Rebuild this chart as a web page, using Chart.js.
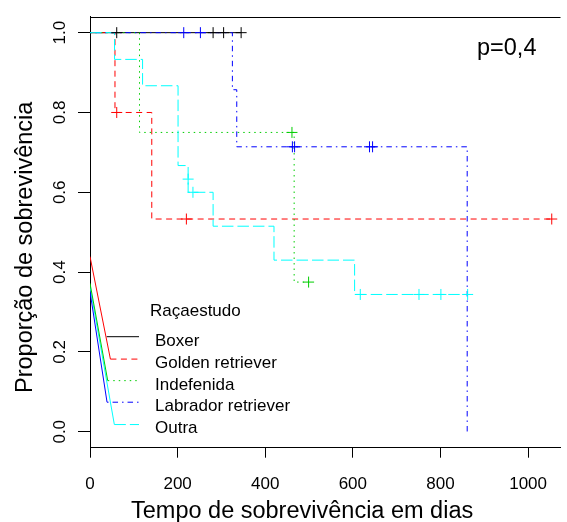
<!DOCTYPE html>
<html>
<head>
<meta charset="utf-8">
<script src="https://cdn.jsdelivr.net/npm/chart.js@4.4.1/dist/chart.umd.min.js"></script>
<style>
  html, body { margin: 0; padding: 0; background: #fff; }
</style>
</head>
<body>
<canvas id="kmChart" width="567" height="522"></canvas>
<script>
const FONT = "'Liberation Sans', Arial, Helvetica, sans-serif";

// Groups (Raçaestudo)
const groupNames = ["Boxer", "Golden retriever", "Indefenida", "Labrador retriever", "Outra"];
const groupColors = ["#000000", "#ff0000", "#00cd00", "#0000ff", "#00ffff"];
const groupDashes = [[], [6, 4.5], [1.5, 4], [1.5, 4, 5.5, 4], [11.5, 4]];

// Kaplan-Meier steps (time in days, survival)
const boxerTimes = [0, 345];
const boxerSurv = [1, 1];
const goldenTimes = [0, 57, 141, 1054];
const goldenSurv = [1, 0.8, 0.533, 0.533];
const indefTimes = [0, 113, 466, 499];
const indefSurv = [1, 0.75, 0.375, 0.375];
const labTimes = [0, 325, 335, 861];
const labSurv = [1, 0.857, 0.714, 0];
const outraTimes = [0, 56, 120, 201, 224, 281, 420, 604, 861];
const outraSurv = [1, 0.933, 0.867, 0.667, 0.6, 0.515, 0.43, 0.344, 0.344];

// Censored observations
const boxerCensT = [61, 281, 305, 345];
const boxerCensS = [1, 1, 1, 1];
const goldenCensT = [61, 220, 1054];
const goldenCensS = [0.8, 0.533, 0.533];
const indefCensT = [461, 499];
const indefCensS = [0.75, 0.375];
const labCensT = [214, 252, 462, 467, 638, 645];
const labCensS = [1, 1, 0.714, 0.714, 0.714, 0.714];
const outraCensT = [224, 235, 617, 751, 801, 862];
const outraCensS = [0.633, 0.6, 0.344, 0.344, 0.344, 0.344];

// stray lines from the y axis down to the legend keys (red, green, blue, cyan)
const diagStartS = [0.439, 0.372, 0.351, 0.364];
const diagEndT = [46.6, 40.5, 38.9, 55.6];
const diagEndS = [0.182, 0.128, 0.074, 0.018];

// axes
const xTicks = [0, 200, 400, 600, 800, 1000];
const xTickLabels = ["0", "200", "400", "600", "800", "1000"];
const yTicks = [0, 0.2, 0.4, 0.6, 0.8, 1.0];
const yTickLabels = ["0.0", "0.2", "0.4", "0.6", "0.8", "1.0"];
const xTitle = "Tempo de sobrevivência em dias";
const yTitle = "Proporção de sobrevivência";
const legendTitle = "Raçaestudo";
const pValueText = "p=0,4";

function toPoints(ts, ss) {
  return ts.map((t, k) => ({ x: t, y: ss[k] }));
}

function kmDataset(i, ts, ss) {
  return {
    label: groupNames[i],
    data: toPoints(ts, ss),
    borderColor: groupColors[i],
    borderWidth: 1,
    borderDash: groupDashes[i],
    stepped: "before", // horizontal first, then drop
    pointRadius: 0,
    fill: false,
    order: 20 - i,
  };
}

function censorDataset(i, ts, ss) {
  return {
    label: groupNames[i] + " (censura)",
    data: toPoints(ts, ss),
    showLine: false,
    pointStyle: "cross",
    pointRadius: 5.5,
    pointBorderWidth: 1,
    pointBorderColor: groupColors[i],
    borderColor: groupColors[i],
    backgroundColor: groupColors[i],
    order: 10 - i,
  };
}

const datasets = [
  kmDataset(0, boxerTimes, boxerSurv),
  kmDataset(1, goldenTimes, goldenSurv),
  kmDataset(2, indefTimes, indefSurv),
  kmDataset(3, labTimes, labSurv),
  kmDataset(4, outraTimes, outraSurv),
  censorDataset(0, boxerCensT, boxerCensS),
  censorDataset(1, goldenCensT, goldenCensS),
  censorDataset(2, indefCensT, indefCensS),
  censorDataset(3, labCensT, labCensS),
  censorDataset(4, outraCensT, outraCensS),
];

for (let k = 0; k < diagStartS.length; k++) {
  datasets.push({
    label: "diag" + k,
    data: [{ x: 0, y: diagStartS[k] }, { x: diagEndT[k], y: diagEndS[k] }],
    borderColor: groupColors[k + 1],
    borderWidth: 1,
    pointRadius: 0,
    fill: false,
    order: 30,
  });
}

// legend, rotated y labels, titles and the top of the box
const decorPlugin = {
  id: "decor",
  afterDraw(chart) {
    const { ctx, chartArea: area, scales: { x, y } } = chart;
    ctx.save();
    ctx.strokeStyle = "#000";
    ctx.fillStyle = "#000";
    ctx.lineWidth = 1;

    // top edge of the box
    const topY = Math.round(area.top) + 0.5;
    ctx.beginPath();
    ctx.moveTo(area.left, topY);
    ctx.lineTo(area.right, topY);
    ctx.stroke();

    // y tick labels (parallel to axis)
    ctx.font = "17px " + FONT;
    ctx.textAlign = "center";
    ctx.textBaseline = "alphabetic";
    yTicks.forEach((v, k) => {
      ctx.save();
      ctx.translate(65, y.getPixelForValue(v));
      ctx.rotate(-Math.PI / 2);
      ctx.fillText(yTickLabels[k], 0, 0);
      ctx.restore();
    });

    // axis titles
    ctx.font = "23.5px " + FONT;
    ctx.textAlign = "left";
    ctx.fillText(xTitle, 131, 518.3);
    ctx.save();
    ctx.translate(31.5, 393);
    ctx.rotate(-Math.PI / 2);
    ctx.fillText(yTitle, 0, 0);
    ctx.restore();

    // p-value
    ctx.fillText(pValueText, 477, 55);

    // legend
    ctx.font = "17px " + FONT;
    ctx.fillText(legendTitle, 150, 316);
    const base0 = 346, step = 21.8, keyEnd = 139;
    groupNames.forEach((name, i) => {
      const base = base0 + step * i;
      const ly = i === 0 ? base - 9.3 : y.getPixelForValue(diagEndS[i - 1]);
      const lx = i === 0 ? 106.7 : x.getPixelForValue(diagEndT[i - 1]);
      ctx.save();
      ctx.strokeStyle = groupColors[i];
      ctx.setLineDash(groupDashes[i]);
      ctx.beginPath();
      ctx.moveTo(lx, ly);
      ctx.lineTo(keyEnd, ly);
      ctx.stroke();
      ctx.restore();
      ctx.fillText(name, 155, base);
    });

    ctx.restore();
  },
};

Chart.defaults.font.family = FONT;
Chart.defaults.color = "#000";

new Chart(document.getElementById("kmChart"), {
  type: "line",
  data: { datasets },
  options: {
    responsive: false,
    animation: false,
    devicePixelRatio: 1,
    layout: { padding: { top: 16.7, right: 0, left: 0, bottom: 0 } },
    plugins: { legend: { display: false }, tooltip: { enabled: false } },
    scales: {
      x: {
        type: "linear",
        min: 0,
        max: 1074,
        afterBuildTicks: (axis) => { axis.ticks = xTicks.map((v) => ({ value: v })); },
        afterFit: (axis) => { axis.height = 74.3; },
        grid: { drawOnChartArea: false, drawTicks: true, tickLength: 10, color: "#000", lineWidth: 1 },
        border: { display: true, color: "#000", width: 1 },
        ticks: {
          font: { size: 17 },
          color: "#000",
          padding: 16,
          maxRotation: 0,
          autoSkip: false,
          callback: (v, idx) => xTickLabels[idx],
        },
      },
      y: {
        type: "linear",
        min: -0.04,
        max: 1.04,
        afterBuildTicks: (axis) => { axis.ticks = yTicks.map((v) => ({ value: v })); },
        afterFit: (axis) => { axis.width = 90; },
        grid: { drawOnChartArea: false, drawTicks: true, tickLength: 12, color: "#000", lineWidth: 1 },
        border: { display: true, color: "#000", width: 1 },
        ticks: { display: false },
      },
    },
  },
  plugins: [decorPlugin],
});
</script>
</body>
</html>
